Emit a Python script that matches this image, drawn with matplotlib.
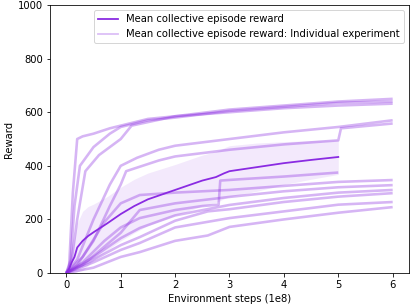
import matplotlib
matplotlib.use("Agg")
import matplotlib.pyplot as plt
from matplotlib.lines import Line2D

runs = [
    ([0, 0.05, 0.12, 0.2, 0.3, 0.5, 0.8, 1.0, 1.5, 2, 3, 4, 5, 6],
     [0, 20, 300, 500, 510, 520, 540, 550, 575, 585, 610, 625, 640, 650]),
    ([0, 0.08, 0.15, 0.25, 0.5, 0.8, 1.0, 1.5, 2, 3, 4, 5, 6],
     [0, 50, 250, 400, 470, 520, 545, 570, 580, 605, 620, 635, 640]),
    ([0, 0.1, 0.2, 0.35, 0.6, 1.0, 1.2, 2, 3, 4, 5, 6],
     [0, 50, 200, 380, 440, 500, 550, 585, 600, 615, 625, 632]),
    ([0, 0.2, 0.5, 0.8, 1.0, 1.3, 1.7, 2, 3, 4, 5, 6],
     [0, 50, 200, 330, 400, 430, 460, 475, 500, 525, 545, 570]),
    ([0, 0.2, 0.5, 0.8, 1.0, 1.1, 1.7, 2, 3, 4, 5, 5.05, 6],
     [0, 30, 120, 250, 330, 380, 420, 435, 460, 480, 495, 540, 558]),
    ([0, 0.3, 0.7, 1.0, 1.35, 2, 2.5, 2.8, 2.83, 3.2, 4, 5],
     [0, 40, 120, 170, 205, 235, 250, 255, 345, 350, 360, 375]),
    ([0, 0.3, 0.7, 1.0, 1.35, 2, 3, 4, 5, 6],
     [0, 60, 190, 260, 291, 300, 310, 325, 340, 347]),
    ([0, 0.3, 1.0, 1.35, 2, 3, 4, 5, 6],
     [0, 30, 150, 235, 260, 284, 305, 320, 328]),
    ([0, 0.5, 1.0, 1.35, 2, 3, 4, 5, 6],
     [0, 60, 130, 168, 215, 254, 280, 300, 310]),
    ([0, 0.5, 1.0, 1.35, 2, 2.6, 3, 4, 5, 6],
     [0, 50, 104, 134, 195, 230, 238, 265, 285, 298]),
    ([0, 0.5, 1.0, 1.35, 2, 3, 4, 5, 6],
     [0, 40, 86, 112, 170, 205, 230, 255, 265]),
    ([0, 0.5, 1.0, 1.35, 2, 2.6, 3, 4, 5, 6],
     [0, 20, 60, 78, 120, 140, 172, 200, 225, 246]),
]

mean_x = [0, 0.05, 0.1, 0.15, 0.2, 0.3, 0.4, 0.5, 0.75, 1.0, 1.25, 1.5, 2,
          2.5, 2.75, 2.9, 3, 3.5, 4, 4.5, 5]
mean_y = [0, 15, 40, 60, 95, 120, 138, 152, 185, 220, 250, 275, 310,
          345, 358, 372, 380, 395, 410, 422, 433]
std_y = [0, 20, 50, 70, 90, 110, 110, 105, 100, 100, 100, 98, 95,
         95, 95, 95, 95, 90, 80, 72, 65]

purple = "blueviolet"

fig = plt.figure(figsize=(415 / 72, 308 / 72), dpi=72)
ax = fig.add_axes([0.1205, 0.1136, 0.865, 0.870])

for xs, ys in runs:
    ax.plot(xs, ys, color=purple, alpha=0.35, lw=2.6, solid_capstyle="butt")

lo = [m - s for m, s in zip(mean_y, std_y)]
hi = [m + s for m, s in zip(mean_y, std_y)]
ax.fill_between(mean_x, lo, hi, color=purple, alpha=0.1, lw=0)
ax.plot(mean_x, mean_y, color=purple, lw=1.8)

ax.set_ylim(0, 1000)
ax.set_xlabel("Environment steps (1e8)")
ax.set_ylabel("Reward")

handles = [
    Line2D([], [], color=purple, lw=1.8),
    Line2D([], [], color=purple, alpha=0.3, lw=1.8),
]
ax.legend(handles, ["Mean collective episode reward",
                    "Mean collective episode reward: Individual experiment"],
          loc="upper right")

fig.savefig("out.png", dpi=72)
